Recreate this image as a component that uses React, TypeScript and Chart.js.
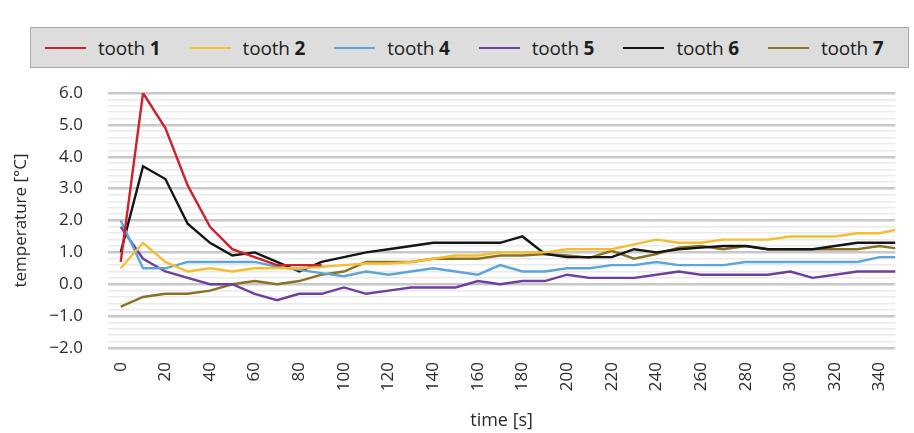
import React, { useEffect, useRef } from "react";
import { Chart, registerables } from "chart.js";

Chart.register(...registerables);

const times = [0, 10, 20, 30, 40, 50, 60, 70, 80, 90, 100, 110, 120, 130, 140, 150, 160, 170, 180, 190, 200, 210, 220, 230, 240, 250, 260, 270, 280, 290, 300, 310, 320, 330, 340, 350];

const tooth1 = [0.7, 6.0, 4.9, 3.1, 1.8, 1.1, 0.85, 0.6, 0.6, 0.6];
const tooth2 = [0.5, 1.3, 0.7, 0.4, 0.5, 0.4, 0.5, 0.5, 0.5, 0.55, 0.6, 0.65, 0.65, 0.7, 0.8, 0.9, 0.9, 1.0, 1.0, 1.0, 1.1, 1.1, 1.1, 1.25, 1.4, 1.3, 1.3, 1.4, 1.4, 1.4, 1.5, 1.5, 1.5, 1.6, 1.6, 1.75];
const tooth4 = [2.0, 0.5, 0.5, 0.7, 0.7, 0.7, 0.7, 0.55, 0.45, 0.35, 0.25, 0.4, 0.3, 0.4, 0.5, 0.4, 0.3, 0.6, 0.4, 0.4, 0.5, 0.5, 0.6, 0.6, 0.7, 0.6, 0.6, 0.6, 0.7, 0.7, 0.7, 0.7, 0.7, 0.7, 0.85, 0.85];
const tooth5 = [1.8, 0.8, 0.4, 0.2, 0.0, 0.0, -0.3, -0.5, -0.3, -0.3, -0.1, -0.3, -0.2, -0.1, -0.1, -0.1, 0.1, 0.0, 0.1, 0.1, 0.3, 0.2, 0.2, 0.2, 0.3, 0.4, 0.3, 0.3, 0.3, 0.3, 0.4, 0.2, 0.3, 0.4, 0.4, 0.4];
const tooth6 = [1.0, 3.7, 3.3, 1.9, 1.3, 0.9, 1.0, 0.7, 0.4, 0.7, 0.85, 1.0, 1.1, 1.2, 1.3, 1.3, 1.3, 1.3, 1.5, 0.95, 0.85, 0.85, 0.85, 1.1, 1.0, 1.1, 1.15, 1.2, 1.2, 1.1, 1.1, 1.1, 1.2, 1.3, 1.3, 1.3];
const tooth7 = [-0.7, -0.4, -0.3, -0.3, -0.2, 0.0, 0.1, 0.0, 0.1, 0.3, 0.4, 0.7, 0.7, 0.7, 0.8, 0.8, 0.8, 0.9, 0.9, 0.95, 0.9, 0.83, 1.05, 0.8, 0.95, 1.15, 1.2, 1.1, 1.2, 1.1, 1.1, 1.1, 1.1, 1.1, 1.2, 1.1];

const seriesNames = ["1", "2", "4", "5", "6", "7"];
const seriesColors = ["#cc2229", "#f5be2e", "#5ba5da", "#6e3ea0", "#151515", "#8c7024"];
const seriesValues = [tooth1, tooth2, tooth4, tooth5, tooth6, tooth7];

const xTickValues = [0, 20, 40, 60, 80, 100, 120, 140, 160, 180, 200, 220, 240, 260, 280, 300, 320, 340];
const yMin = -2;
const yMax = 6;
const yMinorStep = 0.2;

const FONT = "'Open Sans', 'DejaVu Sans', sans-serif";
const TEXT = "#2a2a2a";

export default function App() {
  const ref = useRef<HTMLCanvasElement | null>(null);

  useEffect(() => {
    if (!ref.current) return;
    const datasets = seriesValues.map((vals, i) => ({
      label: "tooth " + seriesNames[i],
      data: vals.map((v, j) => ({ x: times[j], y: v })),
      borderColor: seriesColors[i],
      backgroundColor: seriesColors[i],
      borderWidth: 2.4,
      pointRadius: 0,
      tension: 0,
      fill: false,
    }));
    const chart = new Chart(ref.current, {
      type: "line",
      data: { datasets },
      options: {
        animation: false,
        responsive: false,
        layout: { padding: { top: 93, right: 0, left: 0, bottom: 0 } },
        plugins: { legend: { display: false }, tooltip: { enabled: false } },
        scales: {
          x: {
            type: "linear",
            min: -5.7,
            max: 347,
            afterBuildTicks: (scale: any) => {
              scale.ticks = xTickValues.map((v) => ({ value: v }));
            },
            afterFit: (scale: any) => {
              scale.height = 85;
            },
            grid: { display: false, drawTicks: false },
            border: { display: false },
            ticks: {
              autoSkip: false,
              minRotation: 90,
              maxRotation: 90,
              padding: 14,
              color: TEXT,
              font: { family: FONT, size: 17 },
              callback: (v: any) => String(v),
            },
            title: {
              display: true,
              text: "time [s]",
              color: TEXT,
              font: { family: FONT, size: 18 },
              padding: { top: 0, bottom: 1 },
            },
          },
          y: {
            min: yMin,
            max: yMax,
            afterBuildTicks: (scale: any) => {
              const t = [];
              const n = Math.round((yMax - yMin) / yMinorStep);
              for (let i = 0; i <= n; i++) t.push({ value: Math.round((yMin + i * yMinorStep) * 10) / 10 });
              scale.ticks = t;
            },
            afterFit: (scale: any) => {
              scale.width = 108;
            },
            grid: {
              drawTicks: false,
              color: (ctx: any) => {
                const v = ctx.tick ? ctx.tick.value : 0;
                return Math.abs(v - Math.round(v)) < 1e-6 ? "#c8c8c8" : "#eaeaea";
              },
              lineWidth: (ctx: any) => {
                const v = ctx.tick ? ctx.tick.value : 0;
                return Math.abs(v - Math.round(v)) < 1e-6 ? 2.5 : 1.6;
              },
            },
            border: { display: false },
            ticks: {
              autoSkip: false,
              padding: 25,
              color: TEXT,
              font: { family: FONT, size: 17 },
              callback: (v: any) => {
                const n = Number(v);
                if (Math.abs(n - Math.round(n)) > 1e-6) return "";
                return n.toFixed(1).replace("-", "\u2212");
              },
            },
            title: {
              display: true,
              text: "temperature [°C]",
              color: TEXT,
              font: { family: FONT, size: 17 },
              padding: { top: 11, bottom: 0 },
            },
          },
        },
      },
    } as any);
    return () => chart.destroy();
  }, []);

  return (
    <div style={{ position: "fixed", left: 0, top: 0, width: 914, height: 433, background: "#fff" }}>
      <canvas ref={ref} width={914} height={433} style={{ position: "absolute", left: 0, top: 0 }} />
      <div
        style={{
          position: "absolute",
          left: 30,
          top: 27,
          width: 879,
          height: 41,
          background: "#dddddd",
          border: "1px solid #a9a9a9",
          boxSizing: "border-box",
          display: "flex",
          alignItems: "center",
          paddingLeft: 14,
          fontFamily: FONT,
          fontSize: 19,
          color: "#1e1e1e",
        }}
      >
        {seriesNames.map((n, i) => (
          <div key={n} style={{ width: 144.6, display: "flex", alignItems: "center", flex: "0 0 auto" }}>
            <span style={{ display: "inline-block", width: 41, height: 2, background: seriesColors[i], marginRight: 12 }} />
            <span style={{ whiteSpace: "nowrap", letterSpacing: -0.2 }}>
              tooth <b>{n}</b>
            </span>
          </div>
        ))}
      </div>
    </div>
  );
}
